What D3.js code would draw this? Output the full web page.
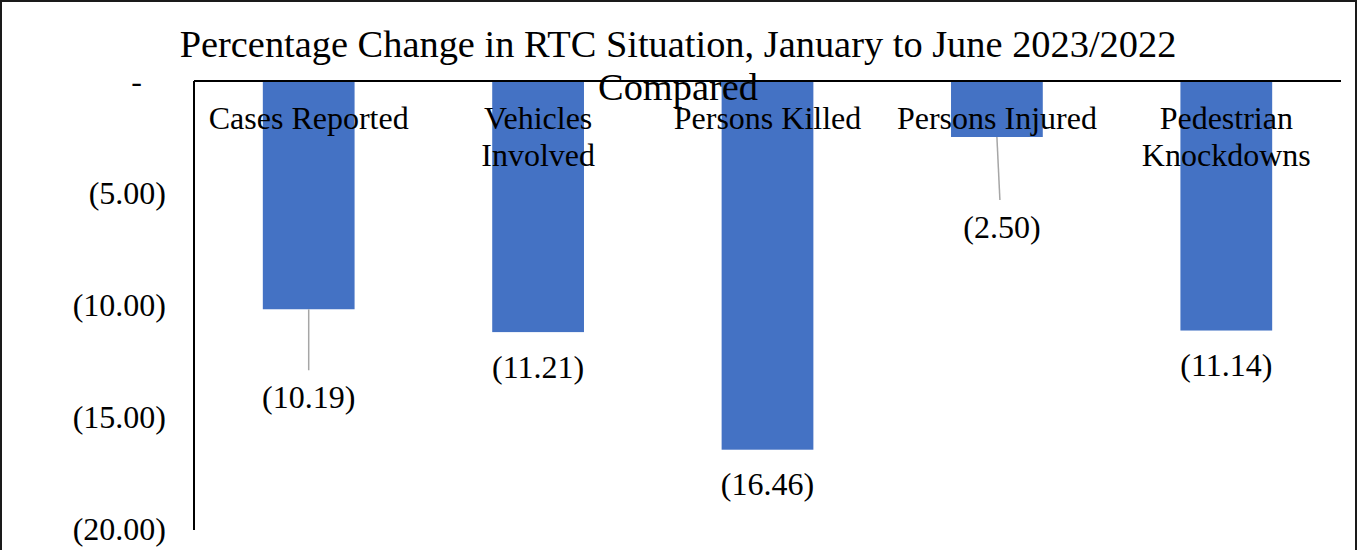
<!DOCTYPE html>
<html>
<head>
<meta charset="utf-8">
<script src="https://cdn.jsdelivr.net/npm/d3@7"></script>
<style>
  html, body { margin: 0; padding: 0; background: #fff; }
  svg { display: block; }
  text { font-family: "Liberation Serif", "Times New Roman", serif; fill: #000; }
</style>
</head>
<body>
<svg id="chart" width="1359" height="550"></svg>
<script>
(function () {
  "use strict";

  const titleLines = [
    "Percentage Change in RTC Situation, January to June 2023/2022",
    "Compared",
  ];
  const categories = [
    "Cases Reported",
    "Vehicles Involved",
    "Persons Killed",
    "Persons Injured",
    "Pedestrian Knockdowns",
  ];
  const values = [-10.19, -11.21, -16.46, -2.5, -11.14];
  const yTicks = [0, -5, -10, -15, -20];

  // labels Excel pushed further down, drawn with a leader line
  const labelDrop = { "Cases Reported": 88, "Persons Injured": 90 };
  const labelShiftX = { "Persons Injured": 5 };

  const width = 1359;
  const height = 550;
  const margin = { left: 194, right: 18, top: 81, bottom: 21 };

  const svg = d3.select("#chart");

  svg
    .append("rect")
    .attr("x", 1)
    .attr("y", 1)
    .attr("width", width - 4)
    .attr("height", height + 20)
    .attr("fill", "none")
    .attr("stroke", "#1a1a1a")
    .attr("stroke-width", 2);

  const x = d3
    .scaleBand()
    .domain(categories)
    .range([margin.left, width - margin.right])
    .paddingInner(0.6)
    .paddingOuter(0.3);

  const y = d3
    .scaleLinear()
    .domain([0, -20])
    .range([margin.top, height - margin.bottom]);

  const rows = categories.map((c, i) => ({ cat: c, value: values[i] }));

  // bars
  svg
    .append("g")
    .selectAll("rect")
    .data(rows)
    .join("rect")
    .attr("x", (d) => x(d.cat))
    .attr("y", y(0))
    .attr("width", x.bandwidth())
    .attr("height", (d) => y(d.value) - y(0))
    .attr("fill", "#4472C4");

  // y axis, accounting style numbers
  function fmt(v) {
    if (v === 0) return "-";
    return "(" + Math.abs(v).toFixed(2) + ")";
  }

  const yAxis = svg.append("g");
  yAxis
    .selectAll("text")
    .data(yTicks)
    .join("text")
    .attr("x", (d) => (d === 0 ? 142 : 166))
    .attr("y", (d) => y(d))
    .attr("dy", "0.33em")
    .attr("text-anchor", "end")
    .attr("font-size", 32)
    .text(fmt);

  svg
    .append("line")
    .attr("x1", margin.left)
    .attr("x2", margin.left)
    .attr("y1", y(0))
    .attr("y2", y(-20) + 1)
    .attr("stroke", "#000")
    .attr("stroke-width", 2);

  svg
    .append("line")
    .attr("x1", margin.left)
    .attr("x2", width - margin.right)
    .attr("y1", y(0))
    .attr("y2", y(0))
    .attr("stroke", "#000")
    .attr("stroke-width", 1.8);

  // category labels, wrapped when wider than the category step
  const catLabels = svg
    .append("g")
    .selectAll("text")
    .data(categories)
    .join("text")
    .attr("x", (d) => x(d) + x.bandwidth() / 2)
    .attr("y", 129)
    .attr("text-anchor", "middle")
    .attr("font-size", 32)
    .text((d) => d);

  catLabels.each(function (d) {
    const node = this;
    if (node.getComputedTextLength() <= x.step() - 12) return;
    const words = d.split(" ");
    const t = d3.select(node).text(null);
    words.forEach((w, i) => {
      t.append("tspan")
        .attr("x", x(d) + x.bandwidth() / 2)
        .attr("dy", i === 0 ? 0 : 37)
        .text(w);
    });
  });

  // data labels + leader lines
  const labelY = (d) => y(d.value) + (labelDrop[d.cat] || 35);
  const labelX = (d) => x(d.cat) + x.bandwidth() / 2 + (labelShiftX[d.cat] || 0);

  svg
    .append("g")
    .selectAll("line")
    .data(rows.filter((d) => labelDrop[d.cat]))
    .join("line")
    .attr("x1", (d) => x(d.cat) + x.bandwidth() / 2)
    .attr("y1", (d) => y(d.value))
    .attr("x2", (d) => labelX(d) - (labelShiftX[d.cat] ? 2 : 0))
    .attr("y2", (d) => labelY(d) - 27)
    .attr("stroke", "#a6a6a6")
    .attr("stroke-width", 1.5);

  svg
    .append("g")
    .selectAll("text")
    .data(rows)
    .join("text")
    .attr("x", labelX)
    .attr("y", labelY)
    .attr("dy", "0.33em")
    .attr("text-anchor", "middle")
    .attr("font-size", 32)
    .text((d) => fmt(d.value));

  // title (wraps onto the plot area, as in the original)
  svg
    .append("g")
    .selectAll("text")
    .data(titleLines)
    .join("text")
    .attr("x", 678)
    .attr("y", (d, i) => 57 + i * 43)
    .attr("text-anchor", "middle")
    .attr("font-size", 38.4)
    .text((d) => d);
})();
</script>
</body>
</html>
